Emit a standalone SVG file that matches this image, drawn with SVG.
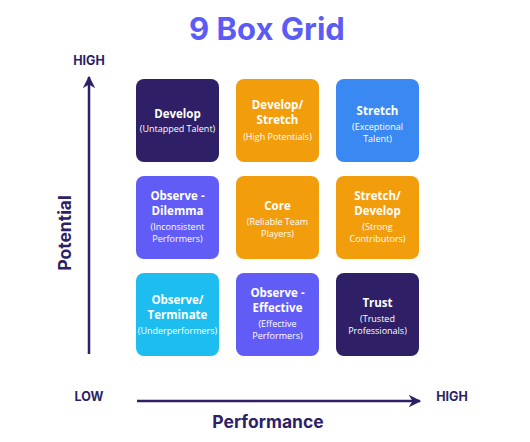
<svg xmlns="http://www.w3.org/2000/svg" width="530" height="442" viewBox="0 0 530 442">
<style>
.t{font-family:"Open Sans","Noto Sans",sans-serif;font-weight:700;font-size:11.5px;fill:#fff;text-anchor:middle}
.s{font-family:"Open Sans","Noto Sans",sans-serif;font-size:9px;fill:#fff;text-anchor:middle}
.ax{font-family:"Inter","Liberation Sans",sans-serif;font-weight:700;fill:#2E1F66}
.navy{fill:#2E1F66}.orange{fill:#F29D0C}.blue{fill:#3A88F2}.purple{fill:#625CF6}.cyan{fill:#1DBEEF}
</style>
<defs>
<marker id="ah" viewBox="0 0 10 10" refX="9" refY="5" markerWidth="5" markerHeight="5" orient="auto" markerUnits="strokeWidth">
<path d="M0,0 L10,5 L0,10 L3,5 Z" fill="#2E1F66"/>
</marker>
</defs>
<rect width="530" height="442" fill="#fff"/>
<text x="267" y="40" text-anchor="middle" font-family="Inter, Roboto, sans-serif" font-weight="700" font-size="31" fill="#5C5CF5">9 Box Grid</text>

<g id="connectors" stroke="#2E1F66" stroke-width="2.5" fill="none">
<line x1="89" y1="354" x2="89" y2="77" marker-end="url(#ah)"/>
<line x1="137" y1="401" x2="420" y2="401" marker-end="url(#ah)"/>
</g>

<g id="axis-labels">
<text class="ax" x="89" y="65" text-anchor="middle" font-size="12.5">HIGH</text>
<text class="ax" x="89" y="401" text-anchor="middle" font-size="12.5">LOW</text>
<text class="ax" x="452" y="401" text-anchor="middle" font-size="12.5">HIGH</text>
<text class="ax" x="268" y="428" text-anchor="middle" font-size="17.5">Performance</text>
<text class="ax" transform="translate(71,233) rotate(-90)" text-anchor="middle" font-size="17.5">Potential</text>
</g>

<g id="develop"><rect class="navy" x="136" y="79" width="83" height="83" rx="8"/>
<text class="t" x="177.5" y="118">Develop</text><text class="s" x="177.5" y="132">(Untapped Talent)</text></g>

<g id="develop-stretch"><rect class="orange" x="236" y="79" width="83" height="83" rx="8"/>
<text class="t" x="277.5" y="109">Develop/</text><text class="t" x="277.5" y="124">Stretch</text><text class="s" x="277.5" y="140">(High Potentials)</text></g>

<g id="stretch"><rect class="blue" x="336" y="79" width="83" height="83" rx="8"/>
<text class="t" x="377.5" y="115">Stretch</text><text class="s" x="377.5" y="130">(Exceptional</text><text class="s" x="377.5" y="142">Talent)</text></g>

<g id="observe-dilemma"><rect class="purple" x="136" y="176" width="83" height="83" rx="8"/>
<text class="t" x="177.5" y="200">Observe -</text><text class="t" x="177.5" y="215">Dilemma</text><text class="s" x="177.5" y="230">(Inconsistent</text><text class="s" x="177.5" y="242">Performers)</text></g>

<g id="core"><rect class="orange" x="236" y="176" width="83" height="83" rx="8"/>
<text class="t" x="277.5" y="210">Core</text><text class="s" x="277.5" y="225">(Reliable Team</text><text class="s" x="277.5" y="237">Players)</text></g>

<g id="stretch-develop"><rect class="orange" x="336" y="176" width="83" height="83" rx="8"/>
<text class="t" x="377.5" y="200">Stretch/</text><text class="t" x="377.5" y="215">Develop</text><text class="s" x="377.5" y="230">(Strong</text><text class="s" x="377.5" y="242">Contributors)</text></g>

<g id="observe-terminate"><rect class="cyan" x="136" y="273" width="83" height="83" rx="8"/>
<text class="t" x="177.5" y="304">Observe/</text><text class="t" x="177.5" y="319">Terminate</text><text class="s" x="177.5" y="334">(Underperformers)</text></g>

<g id="observe-effective"><rect class="purple" x="236" y="273" width="83" height="83" rx="8"/>
<text class="t" x="277.5" y="297">Observe -</text><text class="t" x="277.5" y="312">Effective</text><text class="s" x="277.5" y="327">(Effective</text><text class="s" x="277.5" y="339">Performers)</text></g>

<g id="trust"><rect class="navy" x="336" y="273" width="83" height="83" rx="8"/>
<text class="t" x="377.5" y="307">Trust</text><text class="s" x="377.5" y="322">(Trusted</text><text class="s" x="377.5" y="334">Professionals)</text></g>
</svg>
